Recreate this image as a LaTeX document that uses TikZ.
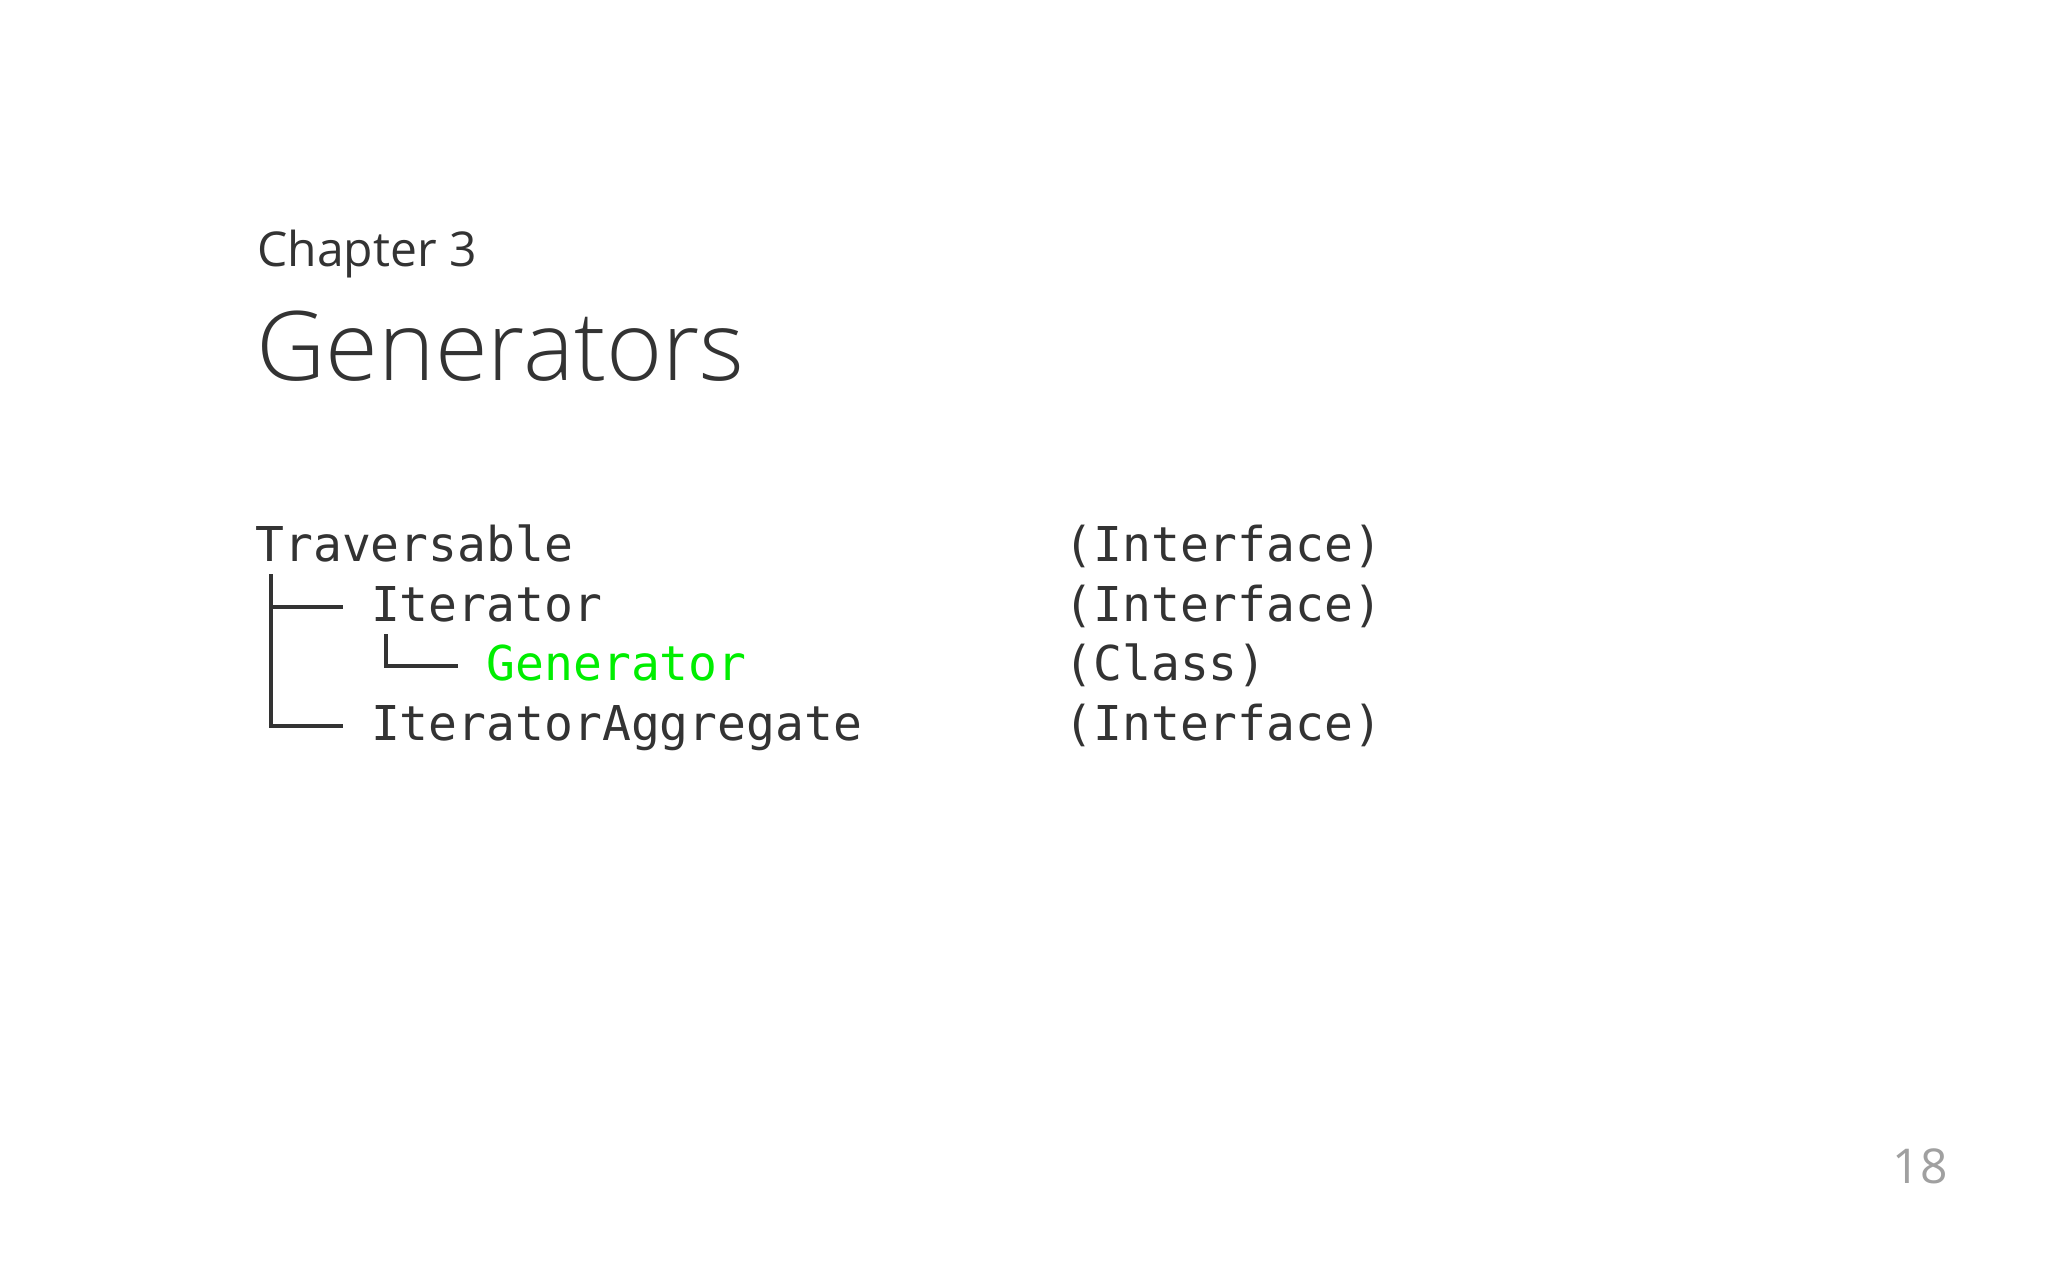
\documentclass[tikz,border=0pt]{standalone}
\usepackage{fontspec}
\setmainfont{Open Sans}
\newfontfamily\lightfont{Open Sans Light}
\setmonofont{DejaVu Sans Mono}
\usetikzlibrary{calc}
\definecolor{ink}{HTML}{333333}
\definecolor{gengreen}{HTML}{00EE00}
\definecolor{pagegray}{HTML}{A0A0A0}

\begin{document}
\begin{tikzpicture}[x=0.5pt,y=-0.5pt]
\tikzstyle{every node}+=[inner sep=0pt, anchor=base west, text=ink]
\tikzstyle{code}=[font=\ttfamily\fontsize{24}{30}\selectfont]
\tikzstyle{branch}=[draw=ink, line width=2pt]
\useasboundingbox [fill=white] (0,0) rectangle (2048,1280);
% heading
\node (chap) at (257,266) {\fontsize{24}{30}\selectfont Chapter 3};
\node (title) at (256,380) {\lightfont\fontsize{48}{56}\selectfont Generators};
% hierarchy
\node [code] (trav) at (255,561) {Traversable};
\node [code] (iter) at (370.6,621) {Iterator};
\node [code, text=gengreen] (gen) at (486.2,680) {Generator};
\node [code] (agg) at (370.6,740) {IteratorAggregate};
\node [code] (travkind) at (1064,561) {(Interface)};
\node [code] (iterkind) at (1064,621) {(Interface)};
\node [code] (genkind) at (1064,680) {(Class)};
\node [code] (aggkind) at (1064,740) {(Interface)};
\coordinate (trunk) at ($(trav.base west)+(16,13)$);
\coordinate (sub) at ($(iter.base west)+(15.5,13)$);
\draw [branch] (trunk) |- ($(iter.base west)+(-28,-14)$);
\draw [branch] (trunk) |- ($(agg.base west)+(-28,-14)$);
\draw [branch] (sub) |- ($(gen.base west)+(-28,-14)$);
% page number
\node [anchor=base east, text=pagegray] (page) at (1948,1183) {\fontsize{24}{30}\selectfont 18};
\end{tikzpicture}
\end{document}
